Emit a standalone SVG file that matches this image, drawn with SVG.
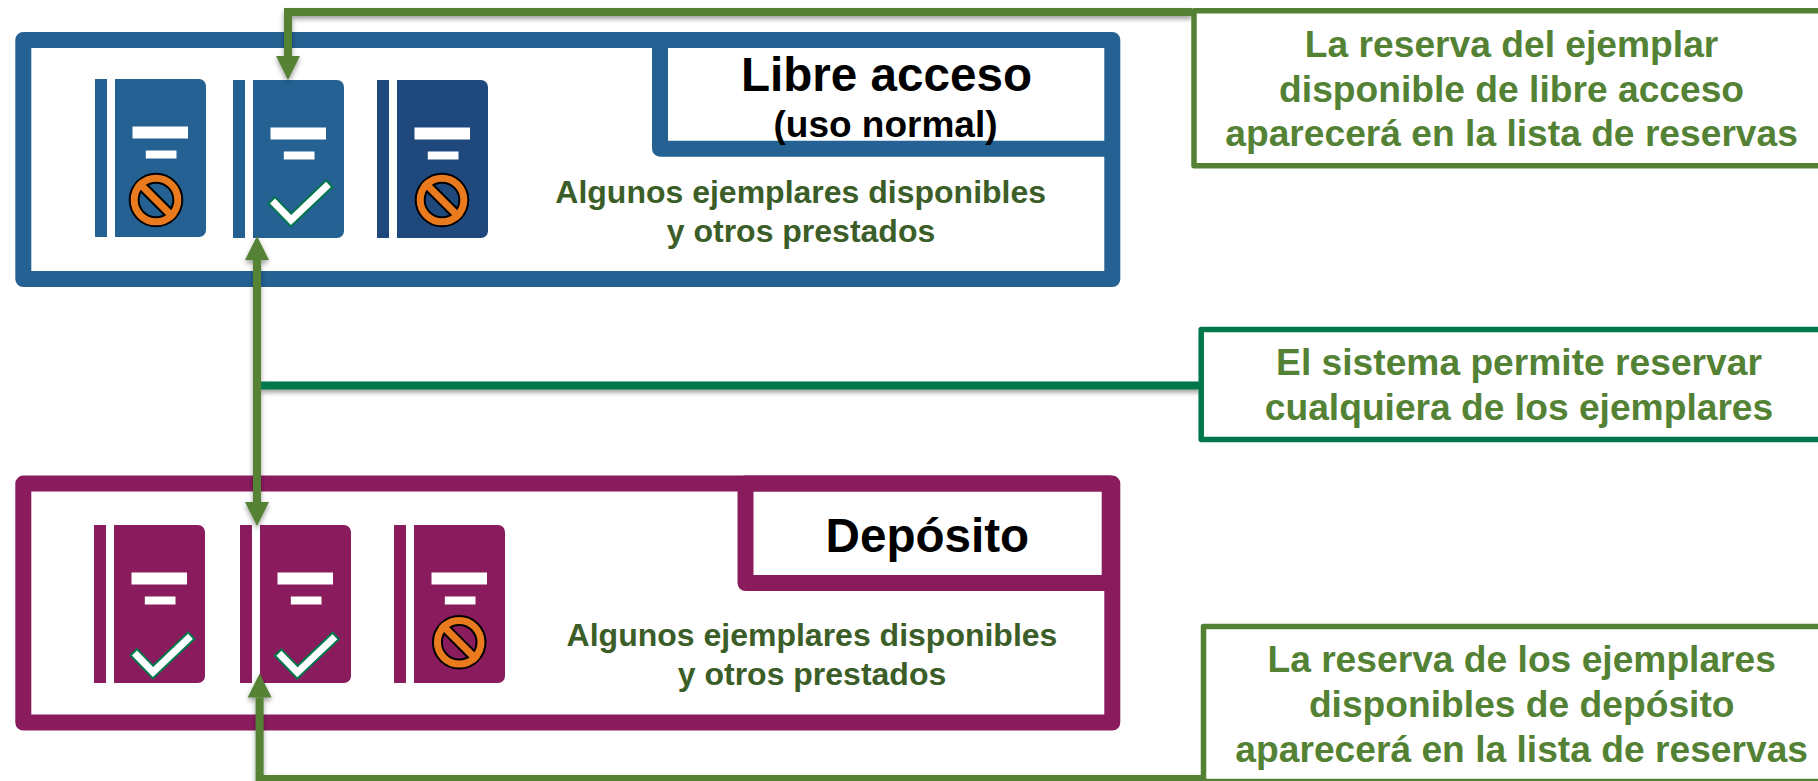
<svg xmlns="http://www.w3.org/2000/svg" width="1818" height="781" viewBox="0 0 1818 781">
<style>
text{font-family:"Liberation Sans",Arial,sans-serif;font-weight:700;text-anchor:middle}
.t{fill:#000}.d{fill:#3b5e28;font-size:32px}.g{fill:#548235;font-size:37.200px}
.w{fill:#fff}
.fb{fill:none;stroke:#256193;stroke-width:16;stroke-linejoin:round}
.fp{fill:none;stroke:#8a1c5e;stroke-width:16;stroke-linejoin:round}
.c{fill:none;stroke:#548235;stroke-width:8}
.c2{fill:none;stroke:#00774b;stroke-width:8}
.bx{fill:#fff;stroke:#548235;stroke-width:5.500;stroke-linejoin:round}
.bx2{fill:#fff;stroke:#00774b;stroke-width:5.500;stroke-linejoin:round}
</style>
<defs>
<filter id="sh" filterUnits="userSpaceOnUse" x="0" y="0" width="1818" height="781"><feDropShadow dx="0" dy="3" stdDeviation="2.500" flood-color="#000" flood-opacity="0.38"/></filter>
<marker id="ah" markerUnits="userSpaceOnUse" markerWidth="24" markerHeight="24" refX="0" refY="12" orient="auto-start-reverse"><path d="M0 0L24 12L0 24Z" fill="#548235"/></marker>
<g id="book"><rect x="0" y="0" width="12" height="158"/><path d="M20 0H104a7 7 0 0 1 7 7V151a7 7 0 0 1-7 7H20Z"/><rect class="w" x="37.500" y="47.500" width="55.500" height="12"/><rect class="w" x="50.800" y="71.500" width="30.700" height="8"/></g>
<g id="no"><g fill="none" stroke="#000" stroke-width="11"><circle r="21.800"/><path d="M-16-16L16 16"/></g><g fill="none" stroke="#e97b1e" stroke-width="7"><circle r="21.800"/><path d="M-18-18L18 18"/></g></g>
<path id="ck" d="M-20-18.500L0 2L39-35"/>
<path id="ck2" d="M-18.500-17L0 2L37.500-33.600"/>
</defs>

<g id="libre-acceso">
<rect class="fb" x="23.300" y="40" width="1089" height="239"/>
<path class="fb" d="M660 40V148.700H1112"/>
<text class="t" x="886.500" y="91" font-size="47.600">Libre acceso</text>
<text class="t" x="885.500" y="137" font-size="37">(uso normal)</text>
<text class="d" x="800.700" y="203">Algunos ejemplares disponibles</text>
<text class="d" x="801" y="242">y otros prestados</text>
</g>
<g id="libre-libro-1" fill="#256193"><use href="#book" x="95" y="79"/><use href="#no" x="156" y="200"/></g>
<g id="libre-libro-2" fill="#256193"><use href="#book" x="233" y="80"/><g transform="translate(291 218)"><use href="#ck" fill="none" stroke="#00774b" stroke-width="11"/><use href="#ck2" fill="none" stroke="#fff" stroke-width="7"/></g></g>
<g id="libre-libro-3" fill="#1f497d"><use href="#book" x="377" y="80"/><use href="#no" x="442" y="200"/></g>

<g id="deposito">
<rect class="fp" x="23.300" y="483.600" width="1089" height="239"/>
<rect class="fp" x="745.500" y="483.600" width="364.200" height="99.500"/>
<text class="t" x="927.400" y="552" font-size="47.600">Depósito</text>
<text class="d" x="812" y="646">Algunos ejemplares disponibles</text>
<text class="d" x="812" y="685">y otros prestados</text>
</g>
<g id="deposito-libro-1" fill="#8a1c5e"><use href="#book" x="94" y="525"/><g transform="translate(153 670)"><use href="#ck" fill="none" stroke="#00774b" stroke-width="11"/><use href="#ck2" fill="none" stroke="#fff" stroke-width="7"/></g></g>
<g id="deposito-libro-2" fill="#8a1c5e"><use href="#book" x="240" y="525"/><g transform="translate(297.400 670.300)"><use href="#ck" fill="none" stroke="#00774b" stroke-width="11"/><use href="#ck2" fill="none" stroke="#fff" stroke-width="7"/></g></g>
<g id="deposito-libro-3" fill="#8a1c5e"><use href="#book" x="394" y="525"/><use href="#no" x="459.200" y="642.300"/></g>

<g id="connectors" filter="url(#sh)">
<path class="c2" d="M257 385.500H1200"/>
<path class="c" d="M1192 12H288V56" marker-end="url(#ah)"/>
<path class="c" d="M257 260V502" marker-start="url(#ah)" marker-end="url(#ah)"/>
<path class="c" d="M1203 779H259.600V697.500" marker-end="url(#ah)"/>
</g>

<g id="nota-libre">
<rect class="bx" x="1194" y="10.800" width="700" height="155"/>
<text class="g" x="1511.600" y="57">La reserva del ejemplar</text>
<text class="g" x="1511.600" y="101.500">disponible de libre acceso</text>
<text class="g" x="1511.600" y="146">aparecerá en la lista de reservas</text>
</g>
<g id="nota-sistema">
<rect class="bx2" x="1201.200" y="329.400" width="700" height="110"/>
<text class="g" x="1519" y="375">El sistema permite reservar</text>
<text class="g" x="1519" y="420">cualquiera de los ejemplares</text>
</g>
<g id="nota-deposito">
<rect class="bx" x="1203.500" y="626.500" width="700" height="155"/>
<text class="g" x="1521.700" y="672">La reserva de los ejemplares</text>
<text class="g" x="1521.700" y="717">disponibles de depósito</text>
<text class="g" x="1521.700" y="762">aparecerá en la lista de reservas</text>
</g>
</svg>
